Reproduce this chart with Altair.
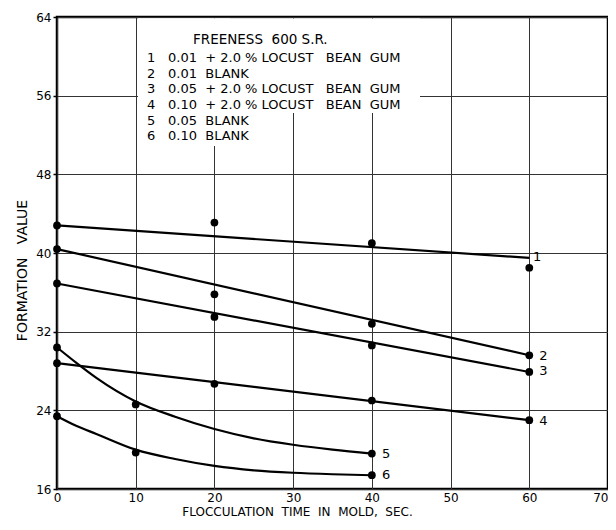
import altair as alt
import pandas as pd

s14_x = [0, 20, 40, 60]
s1_y = [42.8, 43.1, 41.0, 38.5]
s2_y = [40.4, 35.8, 32.8, 29.6]
s3_y = [36.9, 33.5, 30.6, 27.9]
s4_y = [28.8, 26.7, 25.0, 23.0]
s56_x = [0, 10, 40]
s5_y = [30.4, 24.6, 19.6]
s6_y = [23.4, 19.7, 17.4]

# ---- fitted lines / curves ----
fit_line_x = [0, 60]
fit1_y = [42.8, 39.5]
fit2_y = [40.4, 29.6]
fit3_y = [36.9, 27.9]
fit4_y = [28.8, 23.0]
fit_curve_x = [0, 2.5, 5, 10, 15, 20, 25, 30, 35, 40]
fit5_y = [30.4, 28.8, 27.3, 24.9, 23.35, 22.1, 21.15, 20.5, 20.0, 19.6]
fit6_y = [23.4, 22.4, 21.6, 20.0, 19.05, 18.35, 17.9, 17.65, 17.5, 17.4]

# ---- curve end labels ----
curve_labels = ["1", "2", "3", "4", "5", "6"]
label_x = [61.0, 61.8, 61.8, 61.8, 41.8, 41.8]
label_y = [39.6, 29.5, 28.0, 22.9, 19.55, 17.4]

NB = "\u00a0"
# ---- legend text ----
legend_title = "FREENESS" + NB * 2 + "600 S.R."
legend_numbers = ["1", "2", "3", "4", "5", "6"]
legend_texts = [
    "0.01" + NB * 2 + "+ 2.0 % LOCUST" + NB * 3 + "BEAN" + NB * 2 + "GUM",
    "0.01" + NB * 2 + "BLANK",
    "0.05" + NB * 2 + "+ 2.0 % LOCUST" + NB * 3 + "BEAN" + NB * 2 + "GUM",
    "0.10" + NB * 2 + "+ 2.0 % LOCUST" + NB * 3 + "BEAN" + NB * 2 + "GUM",
    "0.05" + NB * 2 + "BLANK",
    "0.10" + NB * 2 + "BLANK",
]
x_title = ("FLOCCULATION" + NB * 2 + "TIME" + NB * 2 + "IN" + NB * 2 + "MOLD," + NB * 2 + "SEC.")
y_title = "FORMATION" + NB * 3 + "VALUE"

x_ticks = [0, 10, 20, 30, 40, 50, 60, 70]
y_ticks = [16, 24, 32, 40, 48, 56, 64]

FONT = "DejaVu Sans"

pts = pd.concat([
    pd.DataFrame({"s": "1", "x": s14_x, "y": s1_y}),
    pd.DataFrame({"s": "2", "x": s14_x, "y": s2_y}),
    pd.DataFrame({"s": "3", "x": s14_x, "y": s3_y}),
    pd.DataFrame({"s": "4", "x": s14_x, "y": s4_y}),
    pd.DataFrame({"s": "5", "x": s56_x, "y": s5_y}),
    pd.DataFrame({"s": "6", "x": s56_x, "y": s6_y}),
])
fit = pd.concat([
    pd.DataFrame({"s": "1", "x": fit_line_x, "y": fit1_y}),
    pd.DataFrame({"s": "2", "x": fit_line_x, "y": fit2_y}),
    pd.DataFrame({"s": "3", "x": fit_line_x, "y": fit3_y}),
    pd.DataFrame({"s": "4", "x": fit_line_x, "y": fit4_y}),
    pd.DataFrame({"s": "5", "x": fit_curve_x, "y": fit5_y}),
    pd.DataFrame({"s": "6", "x": fit_curve_x, "y": fit6_y}),
])
labs = pd.DataFrame({"t": curve_labels, "x": label_x, "y": label_y})

xs = alt.Scale(domain=[0, 70], nice=False, zero=False)
ys = alt.Scale(domain=[16, 64], nice=False, zero=False)

X = alt.X("x:Q", scale=xs, axis=alt.Axis(
    values=x_ticks, title=x_title, grid=True,
    ticks=False, domain=False, labelPadding=3, labelFontSize=12, labelFont=FONT,
    labelColor="black", gridColor="#333", gridWidth=1,
    labelAlign=alt.expr("datum.value == 70 ? 'right' : 'center'"),
    titleFont=FONT, titleFontSize=12, titleFontWeight="normal", titleColor="black",
    titleX=240, titleY=22, titleAlign="center", titleBaseline="middle",
    labelFlush=False))
Y = alt.Y("y:Q", scale=ys, axis=alt.Axis(
    values=y_ticks, title=y_title, grid=True,
    ticks=True, tickSize=4, tickColor="black", tickWidth=1.5, domain=False,
    labelPadding=2, labelFontSize=12, labelFont=FONT, labelColor="black",
    gridColor="#333", gridWidth=1,
    titleFont=FONT, titleFontSize=14, titleFontWeight="normal", titleColor="black",
    titleX=-35, titleY=253, titleAngle=-90, titleAlign="center", titleBaseline="middle",
    labelFlush=False))

one = pd.DataFrame({"a": [0]})

box1 = alt.Chart(one).mark_rect(color="white").encode(
    x=alt.value(81), x2=alt.value(363), y=alt.value(1.5), y2=alt.value(96))
box2 = alt.Chart(one).mark_rect(color="white").encode(
    x=alt.value(81), x2=alt.value(173), y=alt.value(1.5), y2=alt.value(129))

lines = alt.Chart(fit).mark_line(color="black", strokeWidth=2.2, interpolate="monotone").encode(
    x=X, y=Y, detail="s:N", order="x:Q")
points = alt.Chart(pts).mark_circle(color="black", size=60, opacity=1).encode(x=X, y=Y)
clabels = alt.Chart(labs).mark_text(font=FONT, fontSize=13, color="black",
                                    align="center", baseline="middle").encode(
    x=X, y=Y, text="t:N")

legend_layers = []
legend_layers.append(alt.Chart(one).mark_text(
    font=FONT, fontSize=13.5, color="black", align="left", baseline="middle",
    text=legend_title).encode(x=alt.value(136), y=alt.value(23)))
for i, (n, t) in enumerate(zip(legend_numbers, legend_texts)):
    yy = 41.3 + 15.55 * i
    legend_layers.append(alt.Chart(one).mark_text(
        font=FONT, fontSize=13, color="black", align="left", baseline="middle",
        text=n).encode(x=alt.value(90), y=alt.value(yy)))
    legend_layers.append(alt.Chart(one).mark_text(
        font=FONT, fontSize=13, color="black", align="left", baseline="middle",
        text=t).encode(x=alt.value(111), y=alt.value(yy)))

chart = alt.layer(box1, box2, lines, points, clabels, *legend_layers).properties(
    width=551, height=472,
    autosize=alt.AutoSizeParams(type="none"),
    padding={"left": 49, "top": 9, "right": 0, "bottom": 31},
    background="white",
).configure_view(stroke="black", strokeWidth=2.5)

chart.save("out.html", embed_options={"renderer": "svg", "actions": False})
